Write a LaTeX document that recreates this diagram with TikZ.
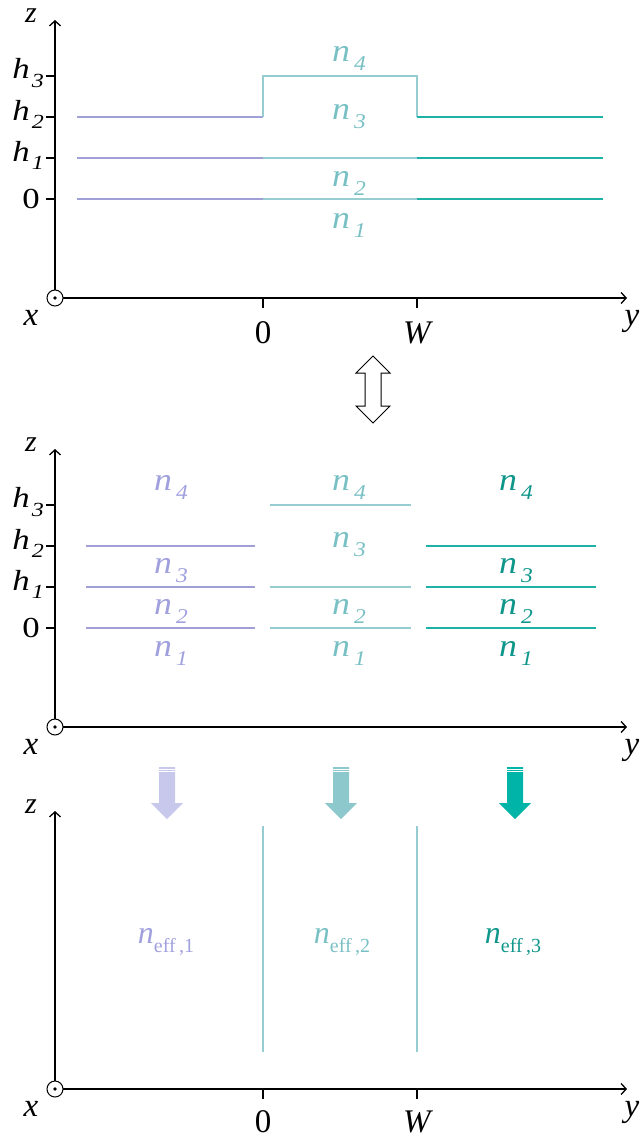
\documentclass[tikz,border=0pt]{standalone}
\usepackage{fontspec}
\setmainfont{Liberation Serif}
\usetikzlibrary{arrows.meta}
\definecolor{pl}{RGB}{160,160,215}
\definecolor{pt}{RGB}{160,160,222}
\definecolor{ml}{RGB}{150,205,208}
\definecolor{mt}{RGB}{120,192,196}
\definecolor{dl}{RGB}{30,178,166}
\definecolor{dt}{RGB}{15,150,138}
\definecolor{pa}{RGB}{200,200,236}
\definecolor{ma}{RGB}{140,200,204}
\definecolor{da}{RGB}{0,180,168}
\newcommand\hstr[2][1.12]{\scalebox{#1}[1]{#2}}
\newcommand\lyr[2]{\hstr{\fontsize{32}{32}\selectfont\textit{#1}\kern0.12em\raisebox{-0.28em}{\fontsize{21}{21}\selectfont\textit{#2}}}}
\newcommand\hlab[2]{\hstr[1.2]{\fontsize{29}{29}\selectfont\textit{#1}\kern0.06em\raisebox{-0.28em}{\fontsize{20}{20}\selectfont\textit{#2}}}}
\newcommand\neff[1]{{\fontsize{32}{32}\selectfont\textit{n}\raisebox{-0.28em}{\fontsize{20}{20}\selectfont eff\,,#1}}}
\begin{document}
\begin{tikzpicture}[x=1pt,y=-1pt,
  axis/.style={line width=1.3pt,black,-{Straight Barb[length=5pt,width=11pt]}},
  tickl/.style={line width=1.3pt,black},
  layer/.style={line width=1.4pt},
  lbl/.style={inner sep=0pt},
  big/.style={inner sep=0pt,font=\fontsize{33}{33}\selectfont},
  orig/.style={circle,draw=black,fill=white,line width=1pt,minimum size=16pt,inner sep=0pt}]
\useasboundingbox (0,0) rectangle (644,1140);

\foreach \p/\dy/\tk in {a/0/1,b/429/1,c/791/0}{
 \begin{scope}[shift={(0,\dy)}]
  \coordinate (\p o) at (55,298);
  \coordinate (\p z) at (55,20);
  \coordinate (\p y) at (627,298);
  \draw[axis] (\p o) -- (\p z);
  \draw[axis] (\p o) -- (\p y);
  \node[orig] (\p circ) at (\p o) {};
  \fill (\p o) circle (1.9);
  \node[lbl,font=\fontsize{30}{30}\selectfont] (\p zl) at (31,16) {\textit{z}};
  \node[big] (\p xl) at (31,318) {\textit{x}};
  \node[big] (\p yl) at (632,321) {\textit{y}};
  \ifnum\tk=1
   \foreach \yy in {76,117,158,199} \draw[tickl] (46,\yy) -- (55,\yy);
   \node[lbl,anchor=east] (\p h3) at (44,73) {\hlab{h}{3}};
   \node[lbl,anchor=east] (\p h2) at (44,114) {\hlab{h}{2}};
   \node[lbl,anchor=east] (\p h1) at (44,155) {\hlab{h}{1}};
   \node[lbl,anchor=east] (\p h0) at (40,199) {\hstr[1.2]{\fontsize{29}{29}\selectfont 0}};
  \else
  \fi
 \end{scope}
}

\foreach \p/\dy/\ly in {a/0/333,c/791/331}{
 \begin{scope}[shift={(0,\dy)}]
  \draw[tickl] (263,298) -- (263,308);
  \draw[tickl] (417,298) -- (417,308);
  \node[big] (\p y0) at (263,\ly) {0};
  \node[big] (\p yW) at (418,\ly) {\textit{W}};
 \end{scope}
}

% ===== Panel 1 =====
\draw[layer,pl] (77,117) -- (263,117);
\draw[layer,pl] (77,158) -- (263,158);
\draw[layer,pl] (77,199) -- (263,199);
\draw[layer,ml] (263,117) -- (263,76) -- (417,76) -- (417,117);
\draw[layer,ml] (263,158) -- (417,158);
\draw[layer,ml] (263,199) -- (417,199);
\draw[layer,dl] (417,117) -- (603,117);
\draw[layer,dl] (417,158) -- (603,158);
\draw[layer,dl] (417,199) -- (603,199);
\node[lbl,text=mt] (a4) at (349,58) {\lyr{n}{4}};
\node[lbl,text=mt] (a3) at (349,117) {\lyr{n}{3}};
\node[lbl,text=mt] (a2) at (349,183) {\lyr{n}{2}};
\node[lbl,text=mt] (a1) at (349,225) {\lyr{n}{1}};

% ===== double arrow =====
\draw[line width=1pt,fill=white,line join=miter] (373,356) -- (390,373) -- (381,373) -- (381,406) -- (390,406) -- (373,423) -- (356,406) -- (365,406) -- (365,373) -- (356,373) -- cycle;

% ===== Panel 2 =====
\begin{scope}[shift={(0,429)}]
 \draw[layer,pl] (86,117) -- (255,117);
 \draw[layer,pl] (86,158) -- (255,158);
 \draw[layer,pl] (86,199) -- (255,199);
 \draw[layer,ml] (270,76) -- (411,76);
 \draw[layer,ml] (270,158) -- (411,158);
 \draw[layer,ml] (270,199) -- (411,199);
 \draw[layer,dl] (426,117) -- (596,117);
 \draw[layer,dl] (426,158) -- (596,158);
 \draw[layer,dl] (426,199) -- (596,199);
 \node[lbl,text=pt] (bl4) at (171,58) {\lyr{n}{4}};
 \node[lbl,text=pt] (bl3) at (171,142) {\lyr{n}{3}};
 \node[lbl,text=pt] (bl2) at (171,182) {\lyr{n}{2}};
 \node[lbl,text=pt] (bl1) at (171,224) {\lyr{n}{1}};
 \node[lbl,text=mt] (bm4) at (349,58) {\lyr{n}{4}};
 \node[lbl,text=mt] (bm3) at (349,116) {\lyr{n}{3}};
 \node[lbl,text=mt] (bm2) at (349,182) {\lyr{n}{2}};
 \node[lbl,text=mt] (bm1) at (349,224) {\lyr{n}{1}};
 \node[lbl,text=dt] (br4) at (516,58) {\lyr{n}{4}};
 \node[lbl,text=dt] (br3) at (516,142) {\lyr{n}{3}};
 \node[lbl,text=dt] (br2) at (516,182) {\lyr{n}{2}};
 \node[lbl,text=dt] (br1) at (516,224) {\lyr{n}{1}};
\end{scope}

% ===== down arrows =====
\foreach \cx/\col in {167/pa,341/ma,515/da}{
 \fill[\col] (\cx-8,767) -- (\cx+8,767) -- (\cx+8,803) -- (\cx+16,803) -- (\cx,819) -- (\cx-16,803) -- (\cx-8,803) -- cycle;
 \draw[white,line width=0.7pt] (\cx-9,769.3) -- (\cx+9,769.3);
 \draw[white,line width=0.7pt] (\cx-9,771.5) -- (\cx+9,771.5);
}

% ===== Panel 3 =====
\coordinate (v1t) at (263,826); \coordinate (v1b) at (263,1052);
\coordinate (v2t) at (417,826); \coordinate (v2b) at (417,1052);
\draw[layer,ml] (v1t) -- (v1b);
\draw[layer,ml] (v2t) -- (v2b);
\node[lbl,text=pt] (e1) at (166,942) {\neff{1}};
\node[lbl,text=mt] (e2) at (342,942) {\neff{2}};
\node[lbl,text=dt] (e3) at (513,942) {\neff{3}};
\end{tikzpicture}
\end{document}
